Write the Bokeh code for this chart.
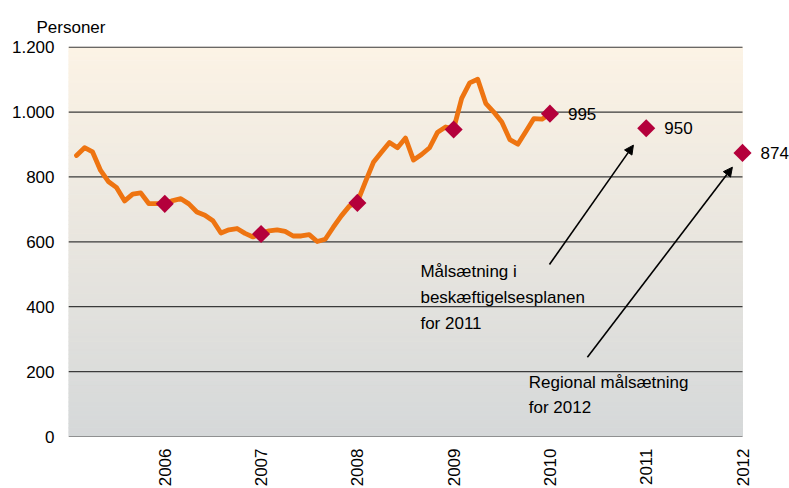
import numpy as np
from bokeh.plotting import figure
from bokeh.models import (ColumnDataSource, FixedTicker, LabelSet, Label, Arrow,
                          NormalHead, Range1d)
from bokeh.core.properties import value
from bokeh.embed import file_html
from bokeh.resources import INLINE

FONT = "Liberation Sans"
FS = "17px"

# ---- data -------------------------------------------------------------
# monthly series, months after January 2005 (1 .. 60 -> Jan 2010)
month_offset = list(range(1, 61))
persons = [866, 890, 877, 820, 785, 767, 726, 747, 751, 718, 718, 718,
           727, 733, 717, 692, 682, 665, 627, 637, 641, 626, 615, 626,
           634, 637, 632, 618, 618, 622, 601, 608, 645, 680, 710, 722,
           785, 845, 876, 906, 890, 920, 852, 869, 890, 938, 954, 948,
           1042, 1090, 1101, 1027, 1000, 969, 915, 901, 940, 980, 978, 995]

years = [2006, 2007, 2008, 2009, 2010, 2011, 2012]
year_values = [717, 624, 720, 946, 995, 950, 874]

labelled_years = [2010, 2011, 2012]
labelled_values = [995, 950, 874]
labelled_text = ["995", "950", "874"]

y_ticks = [0, 200, 400, 600, 800, 1000, 1200]
y_tick_labels = ["0", "200", "400", "600", "800", "1.000", "1.200"]
x_tick_labels = ["2006", "2007", "2008", "2009", "2010", "2011", "2012"]

# annotations: arrows (start -> end) and texts
arrow_x_start = [2009.995, 2010.389]
arrow_y_start = [530, 244]
arrow_x_end = [2010.867, 2011.895]
arrow_y_end = [898, 830]

note1_lines = ["Målsætning i", "beskæftigelsesplanen", "for 2011"]
note1_x = 2008.655
note1_y = [509, 428, 349]
note2_lines = ["Regional målsætning", "for 2012"]
note2_x = 2009.780
note2_y = [166, 89]

x_start, x_end = 2005, 2012
# -----------------------------------------------------------------------

x_month = [x_start + m / 12 for m in month_offset]

p = figure(frame_width=721, frame_height=390,
           x_range=Range1d(x_start, 2012.488), y_range=Range1d(0, 1202),
           output_backend="svg", toolbar_location=None,
           min_border_left=68, min_border_right=0, min_border_top=46,
           min_border_bottom=10)
p.background_fill_color = "white"
p.border_fill_color = "white"
p.outline_line_color = None
p.xgrid.visible = False
p.ygrid.visible = False

p.title.text = "Personer"
p.title.align = "left"
p.title.offset = -32
p.title.standoff = 20
p.title.text_font = FONT
p.title.text_font_size = FS
p.title.text_font_style = "normal"
p.title.text_color = "black"

# gradient background (cream at top -> grey at bottom)
n = 90
edges = np.linspace(0, 1200, n + 1)
top_c = np.array([252, 243, 229])
bot_c = np.array([213, 216, 217])
cols = []
for i in range(n):
    t = (i + 0.5) / n
    c = bot_c + (top_c - bot_c) * t
    cols.append("#%02x%02x%02x" % tuple(int(round(v)) for v in c))
p.quad(left=x_start, right=x_end, bottom=edges[:-1], top=edges[1:],
       fill_color=cols, line_color=cols, line_width=1, level="image")

# horizontal grid lines
p.segment(x0=x_start, x1=x_end, y0=y_ticks, y1=y_ticks,
          line_color="#3a3a3a", line_width=1.2)

# series line
p.line(x_month, persons, line_color="#EE7411", line_width=4.8,
       line_join="round", line_cap="round")

# yearly markers
p.scatter(years, year_values, marker="square", angle=np.pi / 4, size=12.8,
          fill_color="#B4003B", line_color=None)

src = ColumnDataSource(dict(x=labelled_years, y=labelled_values, t=labelled_text))
p.add_layout(LabelSet(x="x", y="y", text="t", source=src, x_offset=18,
                      text_baseline="middle", text_font=value(FONT),
                      text_font_size=value(FS), text_color="black"))

for xs, ys, xe, ye in zip(arrow_x_start, arrow_y_start, arrow_x_end, arrow_y_end):
    p.add_layout(Arrow(x_start=xs, y_start=ys, x_end=xe, y_end=ye,
                       line_color="black", line_width=1.6,
                       end=NormalHead(size=9, fill_color="black",
                                      line_color="black")))

for txt, yy in zip(note1_lines, note1_y):
    p.add_layout(Label(x=note1_x, y=yy, text=txt, text_font=FONT,
                       text_font_size=FS, text_color="black",
                       text_baseline="alphabetic"))
for txt, yy in zip(note2_lines, note2_y):
    p.add_layout(Label(x=note2_x, y=yy, text=txt, text_font=FONT,
                       text_font_size=FS, text_color="black",
                       text_baseline="alphabetic"))

# axes
xa = p.xaxis[0]
xa.ticker = FixedTicker(ticks=years)
xa.major_label_overrides = {y: s for y, s in zip(years, x_tick_labels)}
xa.major_label_orientation = np.pi / 2
xa.axis_line_color = None
xa.major_tick_line_color = None
xa.minor_tick_line_color = None
xa.major_tick_out = 0
xa.major_label_standoff = 12
xa.major_label_text_font = FONT
xa.major_label_text_font_size = FS
xa.major_label_text_color = "black"

ya = p.yaxis[0]
ya.ticker = FixedTicker(ticks=y_ticks)
ya.major_label_overrides = {v: s for v, s in zip(y_ticks, y_tick_labels)}
ya.axis_line_color = None
ya.major_tick_line_color = None
ya.minor_tick_line_color = None
ya.major_tick_out = 0
ya.major_label_standoff = 14
ya.major_label_text_font = FONT
ya.major_label_text_font_size = FS
ya.major_label_text_color = "black"

open("out.html", "w").write(file_html(p, INLINE))
